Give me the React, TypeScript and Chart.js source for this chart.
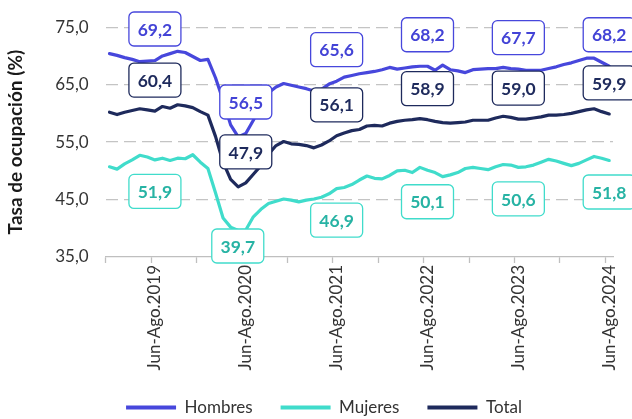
import React, { useEffect, useRef } from 'react';
import { Chart, registerables } from 'chart.js';

Chart.register(...registerables);

const FONT = 'Lato, "Noto Sans", sans-serif';

const MONTHS = ['Ene', 'Feb', 'Mar', 'Abr', 'May', 'Jun', 'Jul', 'Ago', 'Sep', 'Oct', 'Nov', 'Dic'];

// Rolling quarters: Dic-Feb.2019 ... Jun-Ago.2024 (67 periods)
const CATEGORIES: string[] = Array.from({ length: 67 }, (_, i) => {
  const start = (11 + i) % 12;
  const end = (1 + i) % 12;
  const year = 2019 + Math.floor((1 + i) / 12);
  return `${MONTHS[start]}-${MONTHS[end]}.${year}`;
});

const HOMBRES = [
  70.4, 70.1, 69.7, 69.4, 69.0, 69.1, 69.2, 70.0, 70.4, 70.8, 70.6, 69.9,
  69.2, 69.4, 66.2, 62.3, 58.0, 55.9, 56.5, 58.8, 61.5, 63.6, 64.6, 65.2,
  64.9, 64.6, 64.3, 63.9, 64.2, 65.1, 65.6, 66.3, 66.6, 66.9, 67.1, 67.3,
  67.6, 68.0, 67.7, 67.9, 68.1, 68.2, 68.2, 67.5, 68.4, 67.6, 67.4, 67.1,
  67.6, 67.7, 67.8, 67.8, 68.0, 67.8, 67.7, 67.5, 67.5, 67.5, 67.8, 68.1,
  68.5, 68.8, 69.2, 69.6, 69.6, 68.9, 68.2,
];

const MUJERES = [
  50.7, 50.3, 51.2, 51.9, 52.7, 52.4, 51.9, 52.2, 51.8, 52.2, 52.1, 52.8,
  51.5, 50.4, 46.2, 41.8, 40.2, 39.6, 39.7, 42.0, 43.3, 44.3, 44.7, 45.1,
  44.9, 44.6, 44.9, 45.1, 45.4, 46.0, 46.9, 47.1, 47.6, 48.4, 49.1, 48.7,
  48.6, 49.2, 50.0, 50.1, 49.7, 50.6, 50.1, 49.7, 49.0, 49.3, 49.7, 50.4,
  50.6, 50.4, 50.2, 50.7, 51.1, 51.0, 50.6, 50.7, 51.0, 51.5, 52.0, 51.7,
  51.3, 50.9, 51.3, 51.9, 52.5, 52.2, 51.8,
];

const TOTAL = [
  60.2, 59.8, 60.2, 60.5, 60.8, 60.6, 60.4, 61.2, 60.9, 61.5, 61.3, 61.0,
  60.3, 59.7, 56.0, 51.5, 48.5, 47.2, 47.9, 49.4, 50.9, 52.9, 54.4, 55.1,
  54.7, 54.6, 54.4, 54.0, 54.5, 55.2, 56.1, 56.6, 57.0, 57.2, 57.8, 57.9,
  57.8, 58.3, 58.6, 58.8, 58.9, 59.1, 58.9, 58.6, 58.4, 58.3, 58.4, 58.5,
  58.8, 58.8, 58.8, 59.2, 59.5, 59.3, 59.0, 59.0, 59.2, 59.4, 59.7, 59.7,
  59.8, 60.0, 60.3, 60.6, 60.8, 60.3, 59.9,
];

const Y_MIN = 35;
const Y_MAX = 75;
const Y_STEP = 10;

// indices of periods that carry a value box / a tick label
const LABELED_INDICES = [6, 18, 30, 42, 54, 66];

const SERIES = [
  { label: 'Hombres', data: HOMBRES, color: '#4747DC', text: '#4343D6', dy: -31.5 },
  { label: 'Mujeres', data: MUJERES, color: '#40DCCB', text: '#27B3A4', dy: 31.5 },
  { label: 'Total', data: TOTAL, color: '#1E2A5C', text: '#1E2A5C', dy: -31 },
];

// style tweak: the Mujeres box at the 2020 trough is moved off its default spot
const BOX_SHIFT: Record<string, { dx: number; dy: number }> = {
  'Mujeres-18': { dx: -8, dy: 16 },
};

const fmt = (v: number) => v.toFixed(1).replace('.', ',');

const boxPlugin = {
  id: 'valueBoxes',
  afterDatasetsDraw(chart: any) {
    const ctx: CanvasRenderingContext2D = chart.ctx;
    SERIES.forEach((s, di) => {
      const meta = chart.getDatasetMeta(di);
      LABELED_INDICES.forEach((idx) => {
        const pt = meta.data[idx];
        if (!pt) return;
        const shift = BOX_SHIFT[`${s.label}-${idx}`] || { dx: 0, dy: s.dy };
        const cx = pt.x + shift.dx;
        const cy = pt.y + shift.dy;
        const w = 52;
        const h = 34;
        ctx.save();
        ctx.beginPath();
        (ctx as any).roundRect(cx - w / 2, cy - h / 2, w, h, 5);
        ctx.fillStyle = '#ffffff';
        ctx.fill();
        ctx.lineWidth = 1.3;
        ctx.strokeStyle = s.color;
        ctx.stroke();
        ctx.font = `bold 17.5px ${FONT}`;
        ctx.fillStyle = s.text;
        ctx.textAlign = 'center';
        ctx.textBaseline = 'middle';
        ctx.fillText(fmt(s.data[idx]), cx, cy + 1);
        ctx.restore();
      });
    });
  },
};

export default function App() {
  const ref = useRef<HTMLCanvasElement | null>(null);

  useEffect(() => {
    if (!ref.current) return;
    const chart = new Chart(ref.current, {
      type: 'line',
      data: {
        labels: CATEGORIES,
        datasets: SERIES.map((s) => ({
          label: s.label,
          data: s.data,
          borderColor: s.color,
          backgroundColor: s.color,
          borderWidth: 3.2,
          pointRadius: 0,
          tension: 0,
          borderJoinStyle: 'round' as const,
          borderCapStyle: 'round' as const,
        })),
      },
      options: {
        animation: false,
        responsive: false,
        events: [],
        layout: { padding: { top: 19, right: 19, left: 35, bottom: 0 } },
        plugins: {
          legend: {
            position: 'bottom',
            labels: {
              font: { family: FONT, size: 17 },
              color: '#404040',
              boxWidth: 50,
              boxHeight: 4,
              padding: 28,
              generateLabels: (c: any) =>
                c.data.datasets.map((ds: any, i: number) => ({
                  text: ds.label,
                  fillStyle: ds.borderColor,
                  strokeStyle: ds.borderColor,
                  lineWidth: 0,
                  hidden: false,
                  datasetIndex: i,
                  fontColor: '#333333',
                })),
            },
          },
          tooltip: { enabled: false },
        },
        scales: {
          x: {
            type: 'category',
            offset: true,
            grid: {
              offset: true,
              drawOnChartArea: false,
              tickLength: 6,
              tickWidth: 1.3,
              tickColor: (c: any) => (c.index % 6 === 0 ? '#bfbfbf' : 'rgba(0,0,0,0)'),
            },
            border: { color: '#bfbfbf', width: 1.3 },
            ticks: {
              autoSkip: false,
              maxRotation: 90,
              minRotation: 90,
              padding: 2,
              color: '#333333',
              font: { family: FONT, size: 17 },
              callback: (_v: any, i: number) => (LABELED_INDICES.includes(i) ? CATEGORIES[i] : ''),
            },
            afterFit: (s: any) => {
              s.height = 114;
            },
          },
          y: {
            min: Y_MIN,
            max: Y_MAX,
            ticks: {
              stepSize: Y_STEP,
              padding: 17,
              color: '#333333',
              font: { family: FONT, size: 17 },
              callback: (v: any) => fmt(Number(v)),
            },
            grid: {
              drawTicks: false,
              lineWidth: 1.3,
              color: (c: any) => (c.tick && c.tick.value === Y_MIN ? 'rgba(0,0,0,0)' : '#c4c4c4'),
            },
            border: { display: false, dash: [12, 6] },
            title: {
              display: true,
              text: 'Tasa de ocupación (%)',
              color: '#1a1a1a',
              font: { family: FONT, size: 19, weight: 'bold' },
              padding: { top: -30.9, bottom: 0 },
            },
            afterFit: (s: any) => {
              s.width = 70.7;
            },
          },
        },
      },
      plugins: [boxPlugin],
    } as any);
    return () => chart.destroy();
  }, []);

  return (
    <div
      style={{
        position: 'fixed',
        left: 0,
        top: 0,
        width: 632,
        height: 419,
        overflow: 'hidden',
        background: '#ffffff',
      }}
    >
      <canvas ref={ref} width={632} height={426} style={{ display: 'block', width: 632, height: 426 }} />
    </div>
  );
}
